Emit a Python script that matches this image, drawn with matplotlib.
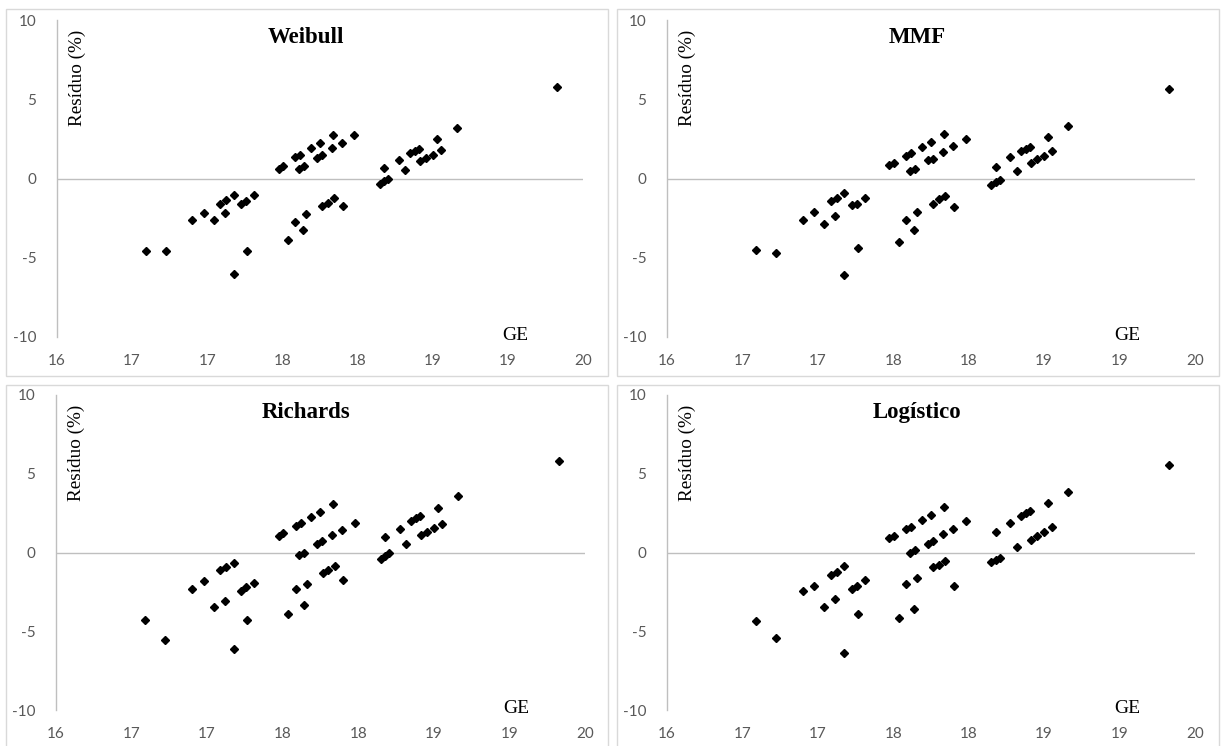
import matplotlib

matplotlib.use("Agg")
import matplotlib.pyplot as plt
from matplotlib.patches import Rectangle

# GE values shared by the four models
ge = [
    16.589, 16.722, 16.899, 16.976, 17.043, 17.087, 17.116, 17.127, 17.176, 17.176,
    17.224, 17.260, 17.264, 17.311,
    17.474, 17.503, 17.585, 17.618, 17.689, 17.747, 17.835,
    17.609, 17.643, 17.729, 17.762, 17.828, 17.895, 17.979,
    17.536, 17.585, 17.638, 17.658, 17.764, 17.802, 17.844, 17.902,
    18.149, 18.178, 18.205, 18.178, 18.273, 18.318, 18.349, 18.380, 18.408,
    18.415, 18.455, 18.499, 18.554, 18.526, 18.661, 19.330,
]

weibull = [
    -4.56, -4.56, -2.63, -2.15, -2.63, -1.62, -2.17, -1.37, -1.01, -6.04,
    -1.64, -1.41, -4.56, -1.05,
    0.63, 0.78, 1.37, 1.47, 1.93, 2.27, 2.73,
    0.63, 0.78, 1.32, 1.47, 1.93, 2.27, 2.73,
    -3.89, -2.73, -3.22, -2.27, -1.75, -1.54, -1.20, -1.75,
    -0.36, -0.17, 0.00, 0.69, 1.16, 0.53, 1.58, 1.72, 1.89,
    1.11, 1.32, 1.47, 1.79, 2.48, 3.20, 5.78,
]

mmf = [
    -4.52, -4.73, -2.59, -2.12, -2.84, -1.39, -2.38, -1.22, -0.90, -6.10,
    -1.68, -1.60, -4.37, -1.22,
    0.88, 0.99, 1.45, 1.62, 1.98, 2.31, 2.78,
    0.46, 0.63, 1.16, 1.24, 1.68, 2.08, 2.50,
    -4.00, -2.59, -3.28, -2.12, -1.58, -1.32, -1.11, -1.79,
    -0.44, -0.23, -0.11, 0.74, 1.35, 0.46, 1.72, 1.87, 2.00,
    0.99, 1.20, 1.41, 1.72, 2.63, 3.34, 5.63,
]

richards = [
    -4.28, -5.54, -2.33, -1.84, -3.47, -1.10, -3.11, -0.89, -0.68, -6.12,
    -2.43, -2.22, -4.28, -1.95,
    1.06, 1.23, 1.69, 1.90, 2.24, 2.60, 3.09,
    -0.15, 0.00, 0.55, 0.70, 1.12, 1.44, 1.90,
    -3.92, -2.33, -3.32, -1.99, -1.31, -1.10, -0.85, -1.74,
    -0.40, -0.21, 0.00, 0.97, 1.50, 0.55, 1.97, 2.18, 2.33,
    1.12, 1.33, 1.54, 1.82, 2.81, 3.56, 5.82,
]

logistico = [
    -4.38, -5.40, -2.43, -2.10, -3.43, -1.42, -2.96, -1.21, -0.85, -6.39,
    -2.33, -2.12, -3.92, -1.74,
    0.91, 1.02, 1.50, 1.65, 2.07, 2.39, 2.86,
    -0.04, 0.13, 0.55, 0.74, 1.19, 1.48, 2.03,
    -4.13, -1.99, -3.58, -1.63, -0.93, -0.78, -0.51, -2.10,
    -0.63, -0.47, -0.36, 1.33, 1.86, 0.32, 2.29, 2.50, 2.65,
    0.80, 1.06, 1.27, 1.59, 3.17, 3.87, 5.57,
]

model_names = ["Weibull", "MMF", "Richards", "Logístico"]
x_ticks = [16, 16.5, 17, 17.5, 18, 18.5, 19, 19.5]
x_tick_labels = ["16", "17", "17", "18", "18", "19", "19", "20"]
y_ticks = [-10, -5, 0, 5, 10]

plt.rcParams["axes.unicode_minus"] = False

W, H = 1221, 746
fig = plt.figure(figsize=(W / 100, H / 100), dpi=100)

# pixel boxes (left, top, right, bottom): outer panel frame and plot area
frames = [(6, 9, 608, 376), (617, 9, 1219, 376), (6, 385, 608, 770), (617, 385, 1219, 770)]
areas = [(57, 20, 583, 337), (667, 20, 1195, 337), (56, 395, 585, 710), (667, 395, 1195, 710)]

serif = "Liberation Serif"
sans = "Lato"
grey = "#bfbfbf"

for name, resid, frame, area in zip(model_names, [weibull, mmf, richards, logistico], frames, areas):
    l, t, r, b = frame
    fig.add_artist(Rectangle((l / W, 1 - b / H), (r - l) / W, (b - t) / H,
                             transform=fig.transFigure, fill=False,
                             edgecolor="#d9d9d9", linewidth=1.0))

    l, t, r, b = area
    ax = fig.add_axes([l / W, 1 - b / H, (r - l) / W, (b - t) / H])
    ax.set_facecolor("none")
    ax.axhline(0, color=grey, linewidth=1.0, zorder=1)
    ax.plot(ge, resid, linestyle="none", marker="D", markersize=4.5,
            color="black", zorder=3, clip_on=False)

    ax.set_xlim(16, 19.5)
    ax.set_ylim(-10, 10)
    ax.set_xticks(x_ticks)
    ax.set_xticklabels(x_tick_labels)
    ax.set_yticks(y_ticks)
    ax.tick_params(length=0, labelsize=11, labelcolor="#595959")
    ax.tick_params(axis="x", pad=12)
    ax.tick_params(axis="y", pad=15)
    for lab in ax.get_xticklabels() + ax.get_yticklabels():
        lab.set_family(sans)

    for side in ["top", "right", "bottom"]:
        ax.spines[side].set_visible(False)
    ax.spines["left"].set_color(grey)
    ax.spines["left"].set_linewidth(1.0)

    ax.text(0.473, 0.946, name, transform=ax.transAxes, ha="center", va="center",
            fontsize=16.5, fontweight="bold", family=serif)
    ax.text(0.038, 0.968, "Resíduo (%)", transform=ax.transAxes, rotation=90,
            ha="center", va="top", fontsize=13.8, family=serif)
    ax.text(0.871, 0.006, "GE", transform=ax.transAxes, ha="center", va="center",
            fontsize=14, family=serif)

fig.savefig("out.png", dpi=100)
plt.close(fig)
